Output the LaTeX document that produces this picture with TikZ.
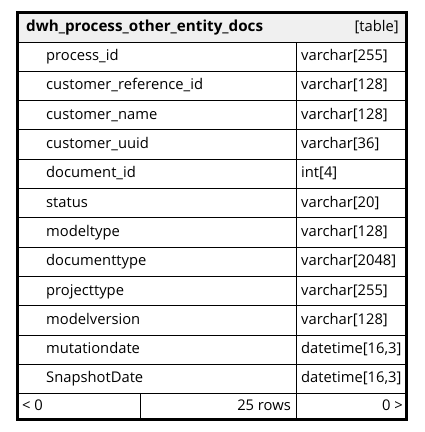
\documentclass[tikz,border=0pt]{standalone}
\usepackage{fontspec}
\setmainfont{Open Sans}
\newcommand{\tabfont}{\fontsize{14.75pt}{17pt}\selectfont}
\begin{document}
\begin{tikzpicture}[x=1pt,y=-1pt,
  cell/.style={inner sep=0pt, anchor=base west, font=\tabfont},
  hdr/.style={inner sep=0pt, font=\tabfont},
  grid/.style={line width=1pt, black},
  frame/.style={line width=3pt, black}]
\useasboundingbox (0,0) rectangle (425,432);
\def\L{17.8}\def\R{406}\def\T{12}\def\H{42}\def\h{29.3}\def\C{296.5}\def\B{419}
\fill[black!6] (\L,\T) rectangle (\R,\H);
\foreach \k in {0,...,12}{
  \draw[grid] (\L,\H+\k*\h) -- (\R,\H+\k*\h);
}
\draw[grid] (\C,\H) -- (\C,\B);
\draw[grid] (140,\H+12*\h) -- (140,\B);
\node[hdr, anchor=base west, font=\fontsize{15.2pt}{17pt}\selectfont\bfseries] (title) at (26,31.5) {dwh\_process\_other\_entity\_docs};
\node[hdr, anchor=base east] (kind) at (399,31.5) {[table]};
\foreach \n/\t [count=\i from 0] in {
  process\_id/varchar[255],
  customer\_reference\_id/varchar[128],
  customer\_name/varchar[128],
  customer\_uuid/varchar[36],
  document\_id/int[4],
  status/varchar[20],
  modeltype/varchar[128],
  documenttype/varchar[2048],
  projecttype/varchar[255],
  modelversion/varchar[128],
  mutationdate/{datetime[16,3]},
  SnapshotDate/{datetime[16,3]}}{
  \node[cell] (n\i) at (46,\H+\i*\h+18.6) {\n};
  \node[cell] (t\i) at (301,\H+\i*\h+18.6) {\t};
}
\node[cell] (lt) at (22,410) {< 0};
\node[cell, anchor=base east] (rows) at (291,410) {25 rows};
\node[cell, anchor=base east] (gt) at (403,410) {0 >};
\draw[frame] (\L,\T) rectangle (\R,\B);
\draw[line width=1.5pt] (\R+1.5,\T+2) -- (\R+1.5,\B+1.5) -- (\L+2,\B+1.5);
\end{tikzpicture}
\end{document}
